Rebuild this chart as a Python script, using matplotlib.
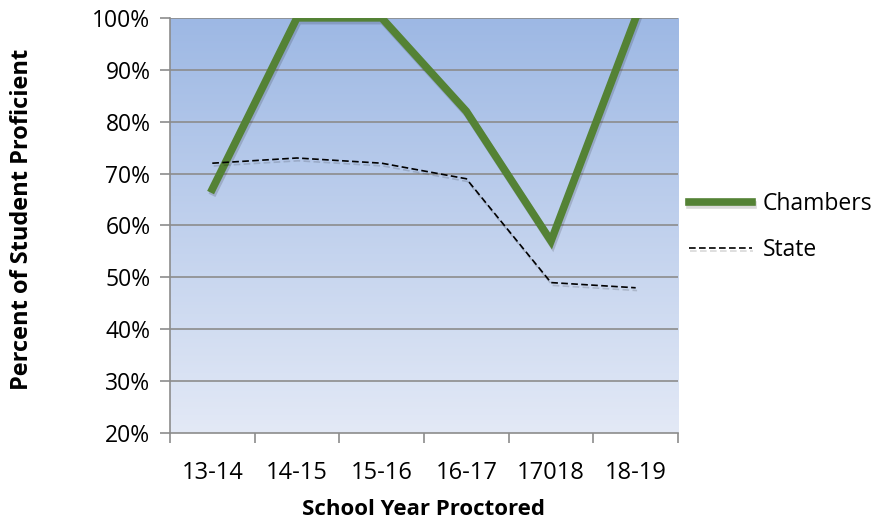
import numpy as np
import matplotlib.pyplot as plt
from matplotlib.colors import LinearSegmentedColormap
import matplotlib.patheffects as pe

plt.rcParams['font.family'] = ['Open Sans', 'DejaVu Sans']

years = ["13-14", "14-15", "15-16", "16-17", "17018", "18-19"]
chambers = [67, 100, 100, 82, 57, 100]
state = [72, 73, 72, 69, 49, 48]

fig = plt.figure(figsize=(8.76, 5.25), dpi=100)
ax = fig.add_axes([0.194, 0.175, 0.580, 0.791])

x = np.arange(len(years))

# gradient background
cmap = LinearSegmentedColormap.from_list("bg", ["#e3e9f6", "#9db8e4"])
grad = np.linspace(0, 1, 256).reshape(-1, 1)
ax.imshow(grad, cmap=cmap, aspect='auto', origin='lower',
          extent=[-0.5, 5.5, 20, 100], zorder=0)

for yv in range(30, 101, 10):
    ax.axhline(yv, color="#8c8c8c", lw=1.2, zorder=1)

shadow = [pe.SimpleLineShadow(offset=(1, -2), alpha=0.15), pe.Normal()]
ax.plot(x, chambers, color="#548235", lw=5.5, label="Chambers", zorder=3,
        solid_joinstyle='miter', path_effects=shadow)
ax.plot(x, state, color="black", lw=1.2, ls=(0, (4, 2)), label="State", zorder=3,
        path_effects=shadow)

ax.set_xlim(-0.5, 5.5)
ax.set_ylim(20, 100)
ax.set_yticks(range(20, 101, 10))
ax.set_yticklabels([f"{v}%" for v in range(20, 101, 10)], fontsize=16.5)
ax.set_xticks(x)
ax.set_xticklabels(years, fontsize=17)
ax.set_xticks(np.arange(-0.5, 6, 1), minor=True)
ax.tick_params(axis='x', which='major', length=0, pad=20)
ax.tick_params(axis='x', which='minor', length=7, color="#8c8c8c", width=1.2)
ax.tick_params(axis='y', length=7, color="#8c8c8c", width=1.2, pad=7)

for s in ["top", "right"]:
    ax.spines[s].set_visible(False)
for s in ["left", "bottom"]:
    ax.spines[s].set_color("#8c8c8c")
    ax.spines[s].set_linewidth(1.2)

ax.set_xlabel("School Year Proctored", fontsize=16, fontweight='bold', labelpad=10)
fig.text(0.025, 0.583, "Percent of Student Proficient", rotation=90,
         fontsize=17, fontweight='bold', ha='center', va='center')

ax.legend(loc='center left', bbox_to_anchor=(0.981, 0.496), frameon=False,
          fontsize=16.5, handlelength=2.75, labelspacing=0.97, handletextpad=0.45)

fig.savefig("out.png", dpi=100)
